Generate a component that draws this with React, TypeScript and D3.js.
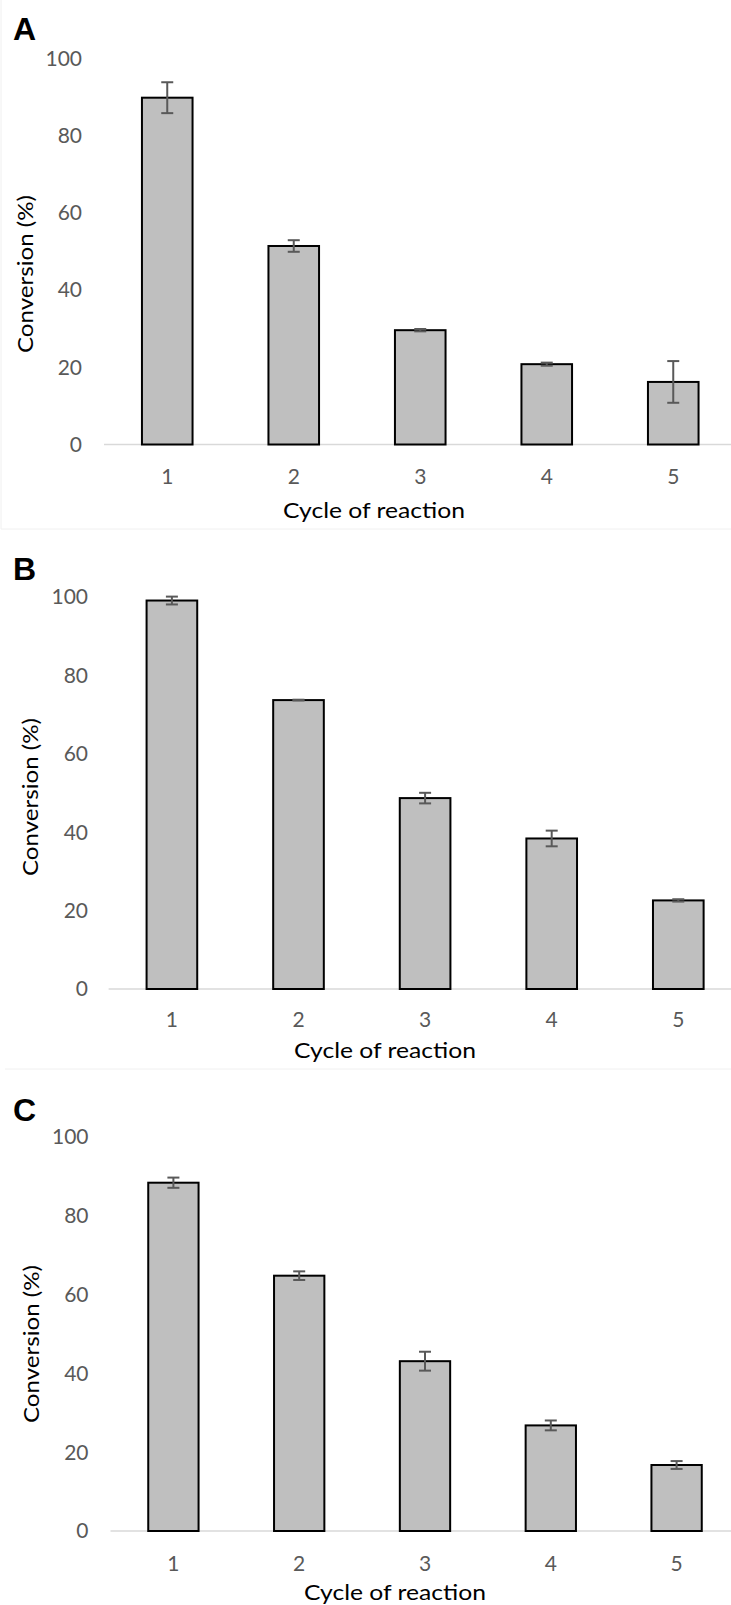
import React from "react";
import * as d3 from "d3";

const cycles = ["1", "2", "3", "4", "5"];
const yTicks = [0, 20, 40, 60, 80, 100];

const valuesA = [89.8, 51.4, 29.6, 20.8, 16.2];
const errorsA = [4.0, 1.5, 0.3, 0.4, 5.4];
const valuesB = [99.1, 73.7, 48.7, 38.4, 22.6];
const errorsB = [1.0, 0.1, 1.35, 2.0, 0.3];
const valuesC = [88.4, 64.8, 43.1, 26.8, 16.75];
const errorsC = [1.3, 1.1, 2.4, 1.25, 1.0];

const panelLetters = ["A", "B", "C"];
const xTitle = "Cycle of reaction";
const yTitle = "Conversion (%)";

const layouts = [
  { x0: 104, step: 126.5, y0: 444.5, y100: 58.3, letterY: 40, labelRight: 82, yTitleX: 25, yTitleY: 274, xTitleX: 374, xTitleY: 510, xLabelY: 477 },
  { x0: 108.6, step: 126.6, y0: 989, y100: 597, letterY: 580, labelRight: 88, yTitleX: 30, yTitleY: 797, xTitleX: 385, xTitleY: 1050, xLabelY: 1020 },
  { x0: 110.5, step: 125.8, y0: 1531, y100: 1137, letterY: 1121, labelRight: 88.5, yTitleX: 31, yTitleY: 1344, xTitleX: 395, xTitleY: 1592, xLabelY: 1564 },
];

const dataSets = [
  { values: valuesA, errors: errorsA },
  { values: valuesB, errors: errorsB },
  { values: valuesC, errors: errorsC },
];

const FONT = "Lato, 'Open Sans', 'Liberation Sans', sans-serif";

function Panel({ idx }: { idx: number }) {
  const L = layouts[idx];
  const { values, errors } = dataSets[idx];
  const x = d3
    .scaleBand<string>()
    .domain(cycles)
    .range([L.x0, L.x0 + L.step * cycles.length])
    .paddingInner(0.6)
    .paddingOuter(0.3);
  const y = d3.scaleLinear().domain([0, 100]).range([L.y0, L.y100]);
  const bw = x.bandwidth();
  const cap = 6;
  return (
    <g>
      <text x={13} y={L.letterY} fontFamily="'Liberation Sans', Arial, sans-serif" fontWeight="bold" fontSize={32} fill="#000">
        {panelLetters[idx]}
      </text>
      {yTicks.map((t) => (
        <text key={t} x={L.labelRight} y={y(t)} dy="0.35em" textAnchor="end" fontFamily={FONT} fontSize={21} fill="#595959">
          {t}
        </text>
      ))}
      <line x1={L.x0} x2={731} y1={y(0)} y2={y(0)} stroke="#d9d9d9" strokeWidth={1.5} />
      {cycles.map((c, i) => {
        const xc = (x(c) as number) + bw / 2;
        return (
          <g key={c}>
            <rect x={x(c)} y={y(values[i])} width={bw} height={y(0) - y(values[i])} fill="#bfbfbf" stroke="#000" strokeWidth={2} />
            <line x1={xc} x2={xc} y1={y(values[i] + errors[i])} y2={y(values[i] - errors[i])} stroke="#595959" strokeWidth={2} />
            <line x1={xc - cap} x2={xc + cap} y1={y(values[i] + errors[i])} y2={y(values[i] + errors[i])} stroke="#595959" strokeWidth={2} />
            <line x1={xc - cap} x2={xc + cap} y1={y(values[i] - errors[i])} y2={y(values[i] - errors[i])} stroke="#595959" strokeWidth={2} />
            <text x={xc} y={L.xLabelY} dy="0.35em" textAnchor="middle" fontFamily={FONT} fontSize={21} fill="#595959">
              {c}
            </text>
          </g>
        );
      })}
      <text x={L.xTitleX} y={L.xTitleY} dy="0.35em" textAnchor="middle" fontFamily={FONT} fontSize={22} fill="#000" textLength={182} lengthAdjust="spacingAndGlyphs">
        {xTitle}
      </text>
      <text
        transform={`translate(${L.yTitleX},${L.yTitleY}) rotate(-90)`}
        dy="0.35em"
        textAnchor="middle"
        fontFamily={FONT}
        fontSize={22}
        fill="#000"
        textLength={158}
        lengthAdjust="spacingAndGlyphs"
      >
        {yTitle}
      </text>
    </g>
  );
}

export default function App() {
  return (
    <svg width={731} height={1605} style={{ position: "absolute", left: 0, top: 0, background: "#fff" }}>
      <rect x={0} y={0} width={731} height={1605} fill="#fff" />
      <line x1={1} x2={1} y1={0} y2={529} stroke="#f0f0f0" strokeWidth={1} />
      <line x1={1} x2={731} y1={529} y2={529} stroke="#f0f0f0" strokeWidth={1} />
      <line x1={5} x2={731} y1={1069} y2={1069} stroke="#f0f0f0" strokeWidth={1} />
      {layouts.map((_, i) => (
        <Panel key={i} idx={i} />
      ))}
    </svg>
  );
}
